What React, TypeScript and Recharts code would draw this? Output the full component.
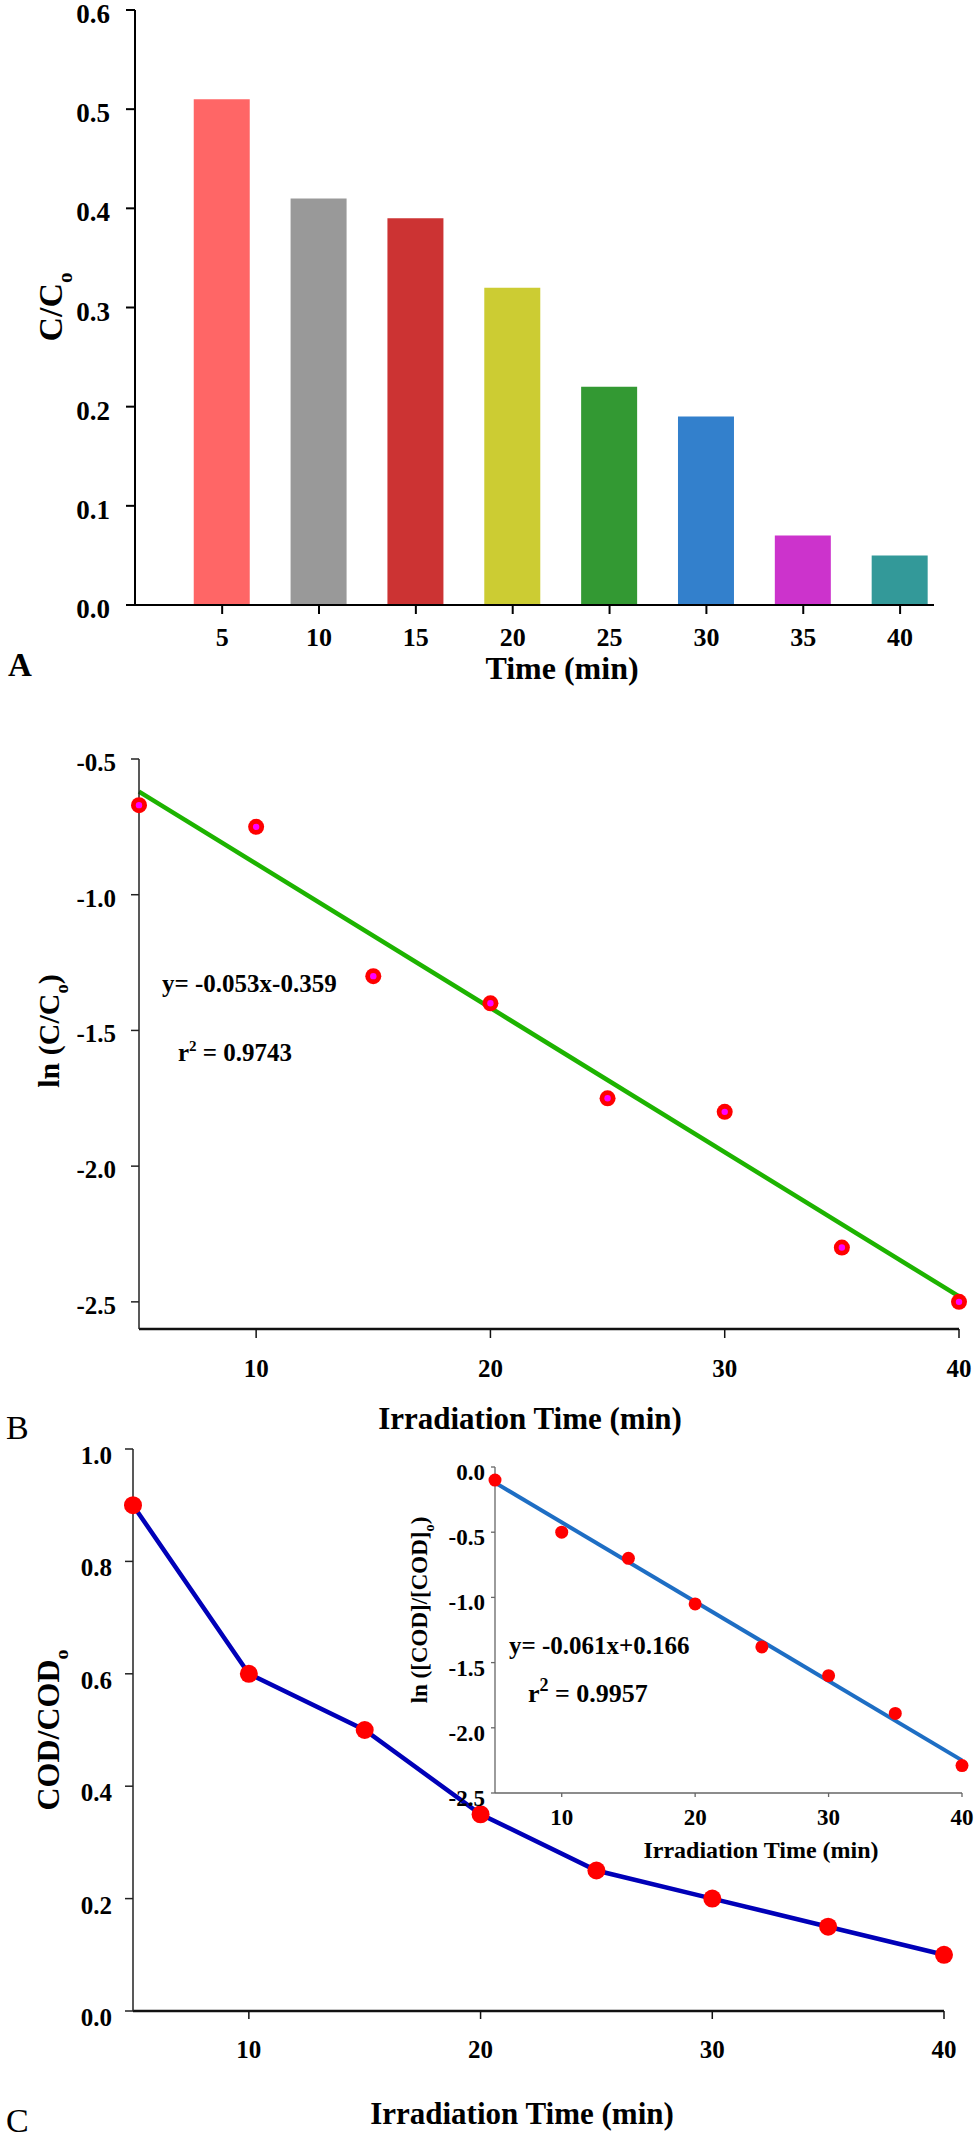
import { Bar, BarChart, Cell, ComposedChart, Line, Scatter, XAxis, YAxis } from "recharts"

const FONT = '"Liberation Serif", "Times New Roman", Times, serif'

// A: C/Co against time
const times = [5, 10, 15, 20, 25, 30, 35, 40]
const ratioA = [0.51, 0.41, 0.39, 0.32, 0.22, 0.19, 0.07, 0.05]
const barColors = ["#FF6666", "#999999", "#CC3333", "#CCCC33", "#339933", "#3380CC", "#CC33CC", "#339999"]
const yTicksA = [0, 0.1, 0.2, 0.3, 0.4, 0.5, 0.6]

// B: ln(C/Co) with the linear fit
const lnRatioB = [-0.67, -0.75, -1.3, -1.4, -1.75, -1.8, -2.3, -2.5]
const fitTimesB = [5, 40]
const fitValuesB = [-0.62, -2.48]
const xTicks = [10, 20, 30, 40]
const yTicksB = [-2.5, -2.0, -1.5, -1.0, -0.5]

// C: COD/CODo and the inset ln plot
const codRatio = [0.9, 0.6, 0.5, 0.35, 0.25, 0.2, 0.15, 0.1]
const yTicksC = [0, 0.2, 0.4, 0.6, 0.8, 1.0]
const lnCod = [-0.1, -0.5, -0.7, -1.05, -1.38, -1.6, -1.89, -2.29]
const fitTimesInset = [5, 40]
const fitValuesInset = [-0.12, -2.25]
const yTicksInset = [-2.5, -2.0, -1.5, -1.0, -0.5, 0]

const barData = times.map((t, i) => ({ time: t, value: ratioA[i] }))
const pointsB = times.map((t, i) => ({ x: t, y: lnRatioB[i] }))
const fitB = fitTimesB.map((t, i) => ({ x: t, y: fitValuesB[i] }))
const codData = times.map((t, i) => ({ x: t, y: codRatio[i] }))
const insetPoints = times.map((t, i) => ({ x: t, y: lnCod[i] }))
const insetFit = fitTimesInset.map((t, i) => ({ x: t, y: fitValuesInset[i] }))

const fmt1 = (v: number) => Number(v).toFixed(1)
const fmt0 = (v: number) => String(v)

function tick(size: number, dy: number, anchor: string, fmt: (v: number) => string) {
  return (p: any) => (
    <text
      x={p.x}
      y={p.y}
      dy={dy}
      textAnchor={anchor}
      fontSize={size}
      fontWeight="bold"
      fontFamily={FONT}
      fill="#000"
    >
      {fmt(p.payload.value)}
    </text>
  )
}

const ringDot = (p: any) => (
  <g>
    <circle cx={p.cx} cy={p.cy} r={8} fill="#FF0000" />
    <circle cx={p.cx} cy={p.cy} r={3.2} fill="#FF00FF" />
  </g>
)

const redDot = (r: number) => (p: any) => <circle cx={p.cx} cy={p.cy} r={r} fill="#FF0000" />

function Txt({ x, y, size, bold = true, anchor = "start", children }: any) {
  return (
    <text
      x={x}
      y={y + size * 0.34}
      fontSize={size}
      fontWeight={bold ? "bold" : "normal"}
      fontFamily={FONT}
      textAnchor={anchor}
      fill="#000"
    >
      {children}
    </text>
  )
}

function VTxt({ x, y, size, children }: any) {
  return (
    <text
      transform={`translate(${x},${y}) rotate(-90)`}
      x={0}
      y={size * 0.34}
      fontSize={size}
      fontWeight="bold"
      fontFamily={FONT}
      textAnchor="middle"
      fill="#000"
    >
      {children}
    </text>
  )
}

const sub = (t: string, size: number) => (
  <tspan dy={size * 0.3} fontSize={size * 0.62}>
    {t}
  </tspan>
)
const back = (t: string, size: number) => (
  <tspan dy={-size * 0.3} fontSize={size}>
    {t}
  </tspan>
)

function PanelA() {
  return (
    <BarChart width={978} height={700} data={barData} margin={{ top: 10, right: 44, left: 0, bottom: 0 }}>
      <XAxis
        type="number"
        dataKey="time"
        domain={[0.5, 41.75]}
        ticks={times}
        height={95}
        tickSize={9}
        tickMargin={0}
        axisLine={{ stroke: "#000", strokeWidth: 2 }}
        tickLine={{ stroke: "#000", strokeWidth: 2 }}
        tick={tick(26, 32, "middle", fmt0)}
      />
      <YAxis
        type="number"
        domain={[0, 0.6]}
        ticks={yTicksA}
        width={135}
        tickSize={9}
        tickMargin={16}
        axisLine={{ stroke: "#000", strokeWidth: 2 }}
        tickLine={{ stroke: "#000", strokeWidth: 2 }}
        tick={tick(27, 13, "end", fmt1)}
      />
      <Bar dataKey="value" barSize={56} isAnimationActive={false}>
        {barData.map((d, i) => (
          <Cell key={d.time} fill={barColors[i]} />
        ))}
      </Bar>
    </BarChart>
  )
}

function PanelB() {
  return (
    <ComposedChart width={978} height={700} margin={{ top: 59, right: 19, left: 0, bottom: 0 }}>
      <XAxis
        type="number"
        dataKey="x"
        domain={[5, 40]}
        ticks={xTicks}
        height={71}
        tickSize={9}
        tickMargin={0}
        axisLine={{ stroke: "#111", strokeWidth: 2.5 }}
        tickLine={{ stroke: "#111", strokeWidth: 1.5 }}
        tick={tick(25, 39, "middle", fmt0)}
      />
      <YAxis
        type="number"
        dataKey="y"
        domain={[-2.6, -0.5]}
        ticks={yTicksB}
        width={139}
        tickSize={8}
        tickMargin={15}
        axisLine={{ stroke: "#222", strokeWidth: 1.5 }}
        tickLine={{ stroke: "#222", strokeWidth: 1.5 }}
        tick={tick(25, 12, "end", fmt1)}
      />
      <Line
        data={fitB}
        dataKey="y"
        stroke="#1DB300"
        strokeWidth={4.5}
        dot={false}
        activeDot={false}
        isAnimationActive={false}
      />
      <Scatter data={pointsB} dataKey="y" shape={ringDot} isAnimationActive={false} />
    </ComposedChart>
  )
}

function PanelC() {
  return (
    <ComposedChart width={978} height={737} margin={{ top: 49, right: 34, left: 0, bottom: 0 }}>
      <XAxis
        type="number"
        dataKey="x"
        domain={[5, 40]}
        ticks={xTicks}
        height={126}
        tickSize={8}
        tickMargin={0}
        axisLine={{ stroke: "#111", strokeWidth: 2.5 }}
        tickLine={{ stroke: "#111", strokeWidth: 1.5 }}
        tick={tick(25, 39, "middle", fmt0)}
      />
      <YAxis
        type="number"
        dataKey="y"
        domain={[0, 1]}
        ticks={yTicksC}
        width={133}
        tickSize={8}
        tickMargin={13}
        axisLine={{ stroke: "#222", strokeWidth: 1.5 }}
        tickLine={{ stroke: "#222", strokeWidth: 1.5 }}
        tick={tick(25, 15, "end", fmt1)}
      />
      <Line
        data={codData}
        dataKey="y"
        stroke="#0000B8"
        strokeWidth={4.5}
        dot={redDot(9)}
        activeDot={false}
        isAnimationActive={false}
      />
    </ComposedChart>
  )
}

function Inset() {
  return (
    <ComposedChart width={598} height={400} margin={{ top: 27, right: 16, left: 0, bottom: 0 }}>
      <XAxis
        type="number"
        dataKey="x"
        domain={[5, 40]}
        ticks={xTicks}
        height={47}
        tickSize={4}
        tickMargin={0}
        axisLine={{ stroke: "#666", strokeWidth: 1.3 }}
        tickLine={{ stroke: "#666", strokeWidth: 1.3 }}
        tick={tick(23, 28, "middle", fmt0)}
      />
      <YAxis
        type="number"
        dataKey="y"
        domain={[-2.5, 0]}
        ticks={yTicksInset}
        width={115}
        tickSize={4}
        tickMargin={6}
        axisLine={{ stroke: "#666", strokeWidth: 1.3 }}
        tickLine={{ stroke: "#666", strokeWidth: 1.3 }}
        tick={tick(23, 13, "end", fmt1)}
      />
      <Line
        data={insetFit}
        dataKey="y"
        stroke="#1E6EC4"
        strokeWidth={4}
        dot={false}
        activeDot={false}
        isAnimationActive={false}
      />
      <Scatter data={insetPoints} dataKey="y" shape={redDot(6.5)} isAnimationActive={false} />
    </ComposedChart>
  )
}

export default function App() {
  return (
    <div style={{ position: "absolute", left: 0, top: 0, width: 978, height: 2137, background: "#fff" }}>
      <div style={{ position: "absolute", left: 0, top: 0 }}>
        <PanelA />
      </div>
      <div style={{ position: "absolute", left: 0, top: 700 }}>
        <PanelB />
      </div>
      <div style={{ position: "absolute", left: 0, top: 1400 }}>
        <PanelC />
      </div>
      <div style={{ position: "absolute", left: 380, top: 1440 }}>
        <Inset />
      </div>
      <svg
        width={978}
        height={2137}
        style={{ position: "absolute", left: 0, top: 0, pointerEvents: "none" }}
      >
        <Txt x={8} y={665} size={33}>A</Txt>
        <Txt x={562} y={668} size={32} anchor="middle">Time (min)</Txt>
        <VTxt x={50} y={307} size={34}>
          C/C{sub("o", 34)}
        </VTxt>

        <Txt x={6} y={1427} size={34} bold={false}>B</Txt>
        <Txt x={530} y={1418} size={31} anchor="middle">Irradiation Time (min)</Txt>
        <VTxt x={49} y={1031} size={30}>
          ln (C/C{sub("o", 30)}
          {back(")", 30)}
        </VTxt>
        <Txt x={162} y={983} size={25}>y= -0.053x-0.359</Txt>
        <Txt x={178} y={1052} size={25}>
          r<tspan dy={-10} fontSize={15}>2</tspan>
          <tspan dy={10} fontSize={25}>{" = 0.9743"}</tspan>
        </Txt>

        <Txt x={6} y={2120} size={34} bold={false}>C</Txt>
        <Txt x={522} y={2113} size={31} anchor="middle">Irradiation Time (min)</Txt>
        <VTxt x={48} y={1730} size={32}>
          COD/COD{sub("o", 32)}
        </VTxt>

        <Txt x={761} y={1850} size={24} anchor="middle">Irradiation Time (min)</Txt>
        <VTxt x={419} y={1610} size={23}>
          ln ([COD]/[COD]{sub("o", 23)}
          {back(")", 23)}
        </VTxt>
        <Txt x={509} y={1645} size={25}>y= -0.061x+0.166</Txt>
        <Txt x={528} y={1693} size={26}>
          r<tspan dy={-11} fontSize={18}>2</tspan>
          <tspan dy={11} fontSize={26}>{" = 0.9957"}</tspan>
        </Txt>
      </svg>
    </div>
  )
}
